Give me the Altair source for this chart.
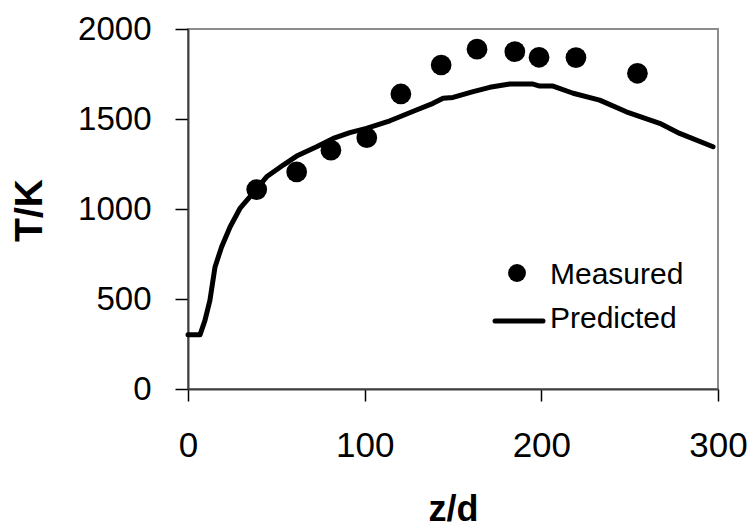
import altair as alt
import pandas as pd

# Measured data
meas_z = [38.9, 61.5, 80.9, 101.2, 120.5, 143.3, 163.6, 185.0, 198.7, 219.6, 254.4]
meas_T = [1108, 1206, 1327, 1396, 1639, 1800, 1888, 1874, 1843, 1841, 1754]

# Predicted curve
pred_z = [0, 6.8, 9.6, 12.4, 15.3, 19.0, 23.8, 29.4, 35.0, 44.5, 53.9, 61.5, 72.8, 82.2,
          91.6, 101.0, 114.3, 129.3, 138.7, 144.4, 150.0, 161.4, 170.8, 182.1, 195.3,
          199.1, 206.6, 218.0, 233.0, 248.1, 267.0, 278.3, 297.2]
pred_T = [301, 301, 381, 492, 678, 789, 900, 1003, 1067, 1179, 1244, 1294, 1346, 1392,
          1424, 1448, 1490, 1550, 1587, 1615, 1620, 1652, 1676, 1694, 1694,
          1683, 1683, 1643, 1605, 1540, 1476, 1420, 1346]

x_ticks = [0, 100, 200, 300]
y_ticks = [0, 500, 1000, 1500, 2000]
legend_labels = ["Measured", "Predicted"]

meas = pd.DataFrame({"z": meas_z, "T": meas_T})
pred = pd.DataFrame({"z": pred_z, "T": pred_T})

FONT = "Liberation Sans"

xscale = alt.Scale(domain=[0, 300], nice=False, zero=False)
yscale = alt.Scale(domain=[0, 2000], nice=False)

xaxis = alt.Axis(values=x_ticks, grid=False, title="z/d", format="d", labelFontSize=35,
                 labelPadding=27, tickSize=12, labelColor="#000", labelFlush=False,
                 titleFontSize=36, titleFontWeight="bold", titleColor="#000",
                 titleX=265, titleY=131, titleBaseline="alphabetic", titleAlign="center",
                 domainColor="#404040", domainWidth=2, tickColor="#000", tickWidth=1.5,
                 labelFont=FONT, titleFont=FONT)
yaxis = alt.Axis(values=y_ticks, grid=False, title="T/K", format="d", labelFontSize=33,
                 labelPadding=24, tickSize=13, labelColor="#000", labelFlush=False,
                 titleFontSize=39, titleFontWeight="bold", titleColor="#000",
                 titleAngle=270, titleX=-147, titleY=181, titleBaseline="alphabetic",
                 titleAlign="center",
                 domainColor="#404040", domainWidth=2, tickColor="#000", tickWidth=1.5,
                 labelFont=FONT, titleFont=FONT)

line = alt.Chart(pred).mark_line(color="black", strokeWidth=5, strokeJoin="round",
                                 strokeCap="round").encode(
    x=alt.X("z:Q", scale=xscale, axis=xaxis),
    y=alt.Y("T:Q", scale=yscale, axis=yaxis),
)

points = alt.Chart(meas).mark_circle(color="black", size=430, opacity=1).encode(
    x=alt.X("z:Q", scale=xscale),
    y=alt.Y("T:Q", scale=yscale),
)

leg_df = pd.DataFrame({"label": legend_labels})

leg_point = alt.Chart(leg_df).transform_filter(alt.datum.label == "Measured").mark_circle(
    color="black", size=320, opacity=1).encode(
    x=alt.value(329), y=alt.value(244))
leg_line = alt.Chart(leg_df).transform_filter(alt.datum.label == "Predicted").mark_rule(
    color="black", strokeWidth=5, strokeCap="round").encode(
    x=alt.value(307), x2=alt.value(355), y=alt.value(292))
leg_text1 = alt.Chart(leg_df).transform_filter(alt.datum.label == "Measured").mark_text(
    align="left", baseline="alphabetic", fontSize=30, font=FONT, color="black").encode(
    x=alt.value(362), y=alt.value(255), text="label:N")
leg_text2 = alt.Chart(leg_df).transform_filter(alt.datum.label == "Predicted").mark_text(
    align="left", baseline="alphabetic", fontSize=30, font=FONT, color="black").encode(
    x=alt.value(362), y=alt.value(299), text="label:N")

chart = alt.layer(line, points, leg_point, leg_line, leg_text1, leg_text2).properties(
    width=530, height=360,
    autosize=alt.AutoSizeParams(type="none"),
    padding={"left": 188, "top": 29, "right": 38, "bottom": 140},
    background="white",
).configure_view(stroke="#8c8c8c", strokeWidth=2)

chart.save("out.html", embed_options={"renderer": "svg", "actions": False})
